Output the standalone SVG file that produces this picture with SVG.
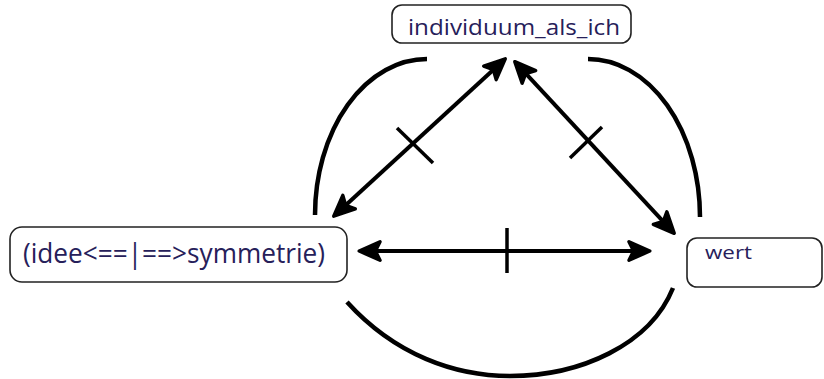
<svg xmlns="http://www.w3.org/2000/svg" width="824" height="379" viewBox="0 0 824 379">
<style>
.box{fill:#fff;stroke:#222;stroke-width:1.6}
.lbl{font-family:"Open Sans","DejaVu Sans",sans-serif;fill:#26205a}
.arc{fill:none;stroke:#000;stroke-width:4.5;stroke-linecap:butt}
.arr{fill:none;stroke:#000;stroke-width:4}
.tick{fill:none;stroke:#000;stroke-width:3.5}
</style>
<defs>
<marker id="ah" markerUnits="userSpaceOnUse" markerWidth="30" markerHeight="30" viewBox="-3 -12 26 24" refX="13" refY="0" orient="auto-start-reverse">
<path d="M0,-8 L18,0 L0,8 L4,0 Z" fill="#000" stroke="#000" stroke-width="3" stroke-linejoin="round"/>
</marker>
</defs>
<rect width="824" height="379" fill="#fff"/>
<g id="connectors">
<path class="arc" d="M427,59 A112,156 0 0 0 315,215"/>
<path class="arc" d="M588,59 A112,158 0 0 1 700,217"/>
<path class="arc" d="M347,302 C395,355 455,376 510,376 C580,376 650,345 673,288"/>
<line class="arr" x1="338" y1="212.3" x2="501" y2="62.7" marker-start="url(#ah)" marker-end="url(#ah)"/>
<line class="arr" x1="518.7" y1="65.9" x2="670.3" y2="229.1" marker-start="url(#ah)" marker-end="url(#ah)"/>
<line class="arr" x1="365" y1="251" x2="644" y2="251" marker-start="url(#ah)" marker-end="url(#ah)"/>
<line class="tick" x1="397" y1="128" x2="433" y2="163"/>
<line class="tick" x1="602" y1="127" x2="570" y2="158"/>
<line class="tick" x1="507" y1="228" x2="507" y2="273"/>
</g>
<g id="node-individuum">
<rect class="box" x="392" y="5" width="239" height="38" rx="10"/>
<text class="lbl" x="408" y="35" font-size="22" textLength="212" lengthAdjust="spacingAndGlyphs">individuum_als_ich</text>
</g>
<g id="node-idee">
<rect class="box" x="10" y="227" width="337" height="55" rx="12"/>
<text class="lbl" x="23" y="263" font-size="28" textLength="302" lengthAdjust="spacingAndGlyphs">(idee&lt;==|==&gt;symmetrie)</text>
</g>
<g id="node-wert">
<rect class="box" x="687" y="238" width="135" height="49" rx="10"/>
<text class="lbl" x="705" y="259" font-size="19" textLength="47" lengthAdjust="spacingAndGlyphs">wert</text>
</g>
</svg>
